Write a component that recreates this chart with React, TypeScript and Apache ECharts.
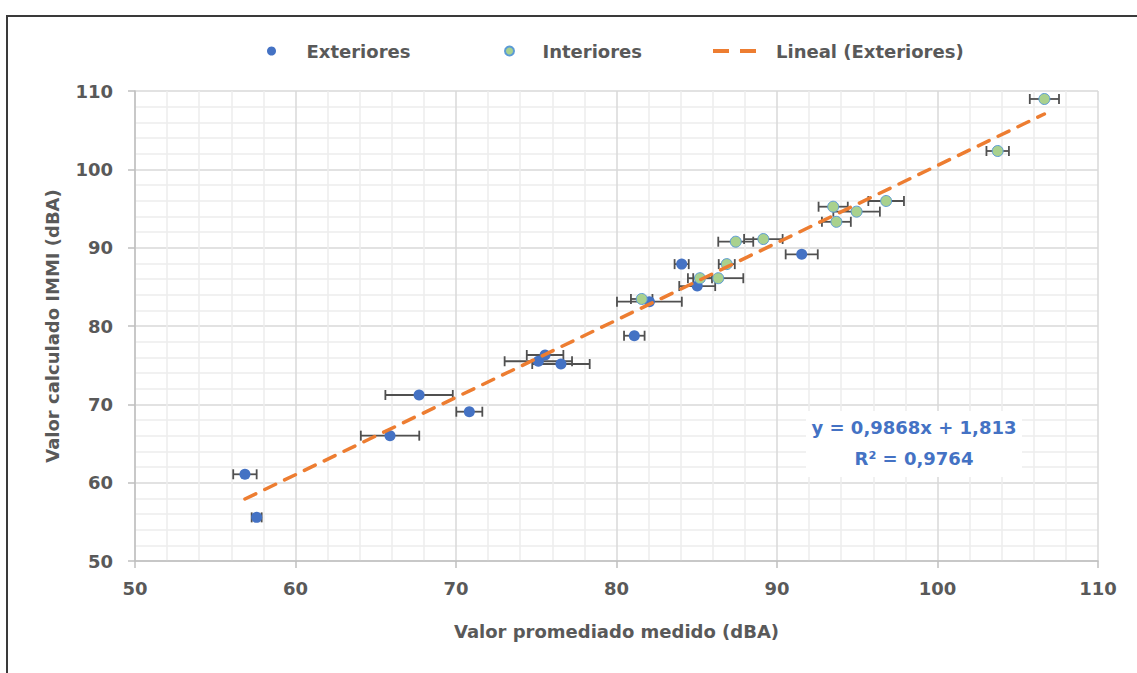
import React, { useEffect, useRef } from "react";
import * as echarts from "echarts";

// ---- Data ----
const extX = [56.85, 57.58, 65.89, 67.7, 70.83, 75.13, 75.55, 76.54, 81.11, 82.05, 84.06, 85.03, 91.54];
const extY = [61.07, 55.57, 66.0, 71.19, 69.06, 75.5, 76.3, 75.15, 78.76, 83.1, 87.9, 85.1, 89.15];
const extErr = [0.73, 0.31, 1.82, 2.1, 0.81, 2.1, 1.14, 1.79, 0.64, 2.02, 0.44, 1.12, 1.0];

const intX = [81.57, 85.2, 86.34, 86.87, 87.43, 89.15, 93.5, 93.7, 94.96, 96.8, 103.75, 106.66];
const intY = [83.45, 86.1, 86.1, 87.9, 90.76, 91.1, 95.23, 93.3, 94.6, 95.96, 102.34, 108.98];
const intErr = [0.67, 0.75, 1.56, 0.5, 1.09, 1.2, 0.91, 0.9, 1.45, 1.11, 0.7, 0.91];

const trendSlope = 0.9868;
const trendIntercept = 1.813;
const equationText = "y = 0,9868x + 1,813";
const r2Text = "R² = 0,9764";

const xTicks = { min: 50, max: 110, interval: 10 };
const yTicks = { min: 50, max: 110, interval: 10 };

const FONT = "DejaVu Sans";
const GREY = "#595959";

export default function App() {
  const ref = useRef<HTMLDivElement>(null);

  useEffect(() => {
    if (!ref.current) return;
    const chart = echarts.init(ref.current, null, { renderer: "svg" });

    const extData = extX.map((x, i) => [x, extY[i]]);
    const intData = intX.map((x, i) => [x, intY[i]]);
    const extErrData = extX.map((x, i) => [x, extY[i], extErr[i]]);
    const intErrData = intX.map((x, i) => [x, intY[i], intErr[i]]);
    const tx0 = Math.min(...extX);
    const tx1 = Math.max(...extX, ...intX);
    const trendData = [
      [tx0, trendSlope * tx0 + trendIntercept],
      [tx1, trendSlope * tx1 + trendIntercept],
    ];

    const errRender = (params: any, api: any) => {
      const x = api.value(0);
      const y = api.value(1);
      const e = api.value(2);
      const p1 = api.coord([x - e, y]);
      const p2 = api.coord([x + e, y]);
      const h = 5;
      const st = { stroke: "#505050", lineWidth: 1.8 };
      return {
        type: "group",
        children: [
          { type: "line", shape: { x1: p1[0], y1: p1[1], x2: p2[0], y2: p2[1] }, style: st },
          { type: "line", shape: { x1: p1[0], y1: p1[1] - h, x2: p1[0], y2: p1[1] + h }, style: st },
          { type: "line", shape: { x1: p2[0], y1: p2[1] - h, x2: p2[0], y2: p2[1] + h }, style: st },
        ],
      };
    };

    const labelStyle = { color: GREY, fontSize: 18, fontWeight: "bold", fontFamily: FONT };
    const legendText = { color: GREY, fontSize: 18, fontWeight: "bold", fontFamily: FONT, lineHeight: 22 };

    const option: any = {
      animation: false,
      backgroundColor: "transparent",
      grid: { left: 135, right: 39, top: 91, bottom: 112, containLabel: false },
      legend: [
        {
          data: [{ name: "Exteriores", icon: "circle" }],
          left: 262, top: 35, itemWidth: 60, itemHeight: 9,
          textStyle: legendText, selectedMode: false,
        },
        {
          data: [{ name: "Interiores", icon: "circle" }],
          left: 499, top: 35, itemWidth: 56, itemHeight: 9,
          textStyle: legendText, selectedMode: false,
        },
        {
          data: [{
            name: "Lineal (Exteriores)",
            icon: "path://M0,0h16v4h-16z M27,0h16v4h-16z",
            itemStyle: { color: "#ED7D31" },
          }],
          left: 708, top: 35, itemWidth: 73, itemHeight: 4,
          textStyle: legendText, selectedMode: false,
        },
      ],
      xAxis: {
        type: "value",
        min: xTicks.min, max: xTicks.max, interval: xTicks.interval,
        name: "Valor promediado medido (dBA)",
        nameLocation: "middle", nameGap: 61,
        nameTextStyle: labelStyle,
        axisLine: { show: true, lineStyle: { color: "#BFBFBF", width: 1.5 } },
        axisTick: { show: true, length: 7, lineStyle: { color: "#BFBFBF", width: 1.5 } },
        axisLabel: { ...labelStyle, margin: 18 },
        splitLine: { show: true, lineStyle: { color: "#D9D9D9", width: 1.5 } },
        minorTick: { show: false, splitNumber: 5 },
        minorSplitLine: { show: true, lineStyle: { color: "#EDEDED", width: 1.5 } },
      },
      yAxis: {
        type: "value",
        min: yTicks.min, max: yTicks.max, interval: yTicks.interval,
        name: "Valor calculado IMMI (dBA)",
        nameLocation: "middle", nameGap: 74,
        nameTextStyle: labelStyle,
        axisLine: { show: true, lineStyle: { color: "#BFBFBF", width: 1.5 } },
        axisTick: { show: true, length: 7, lineStyle: { color: "#BFBFBF", width: 1.5 } },
        axisLabel: { ...labelStyle, margin: 22 },
        splitLine: { show: true, lineStyle: { color: "#D9D9D9", width: 1.5 } },
        minorTick: { show: false, splitNumber: 5 },
        minorSplitLine: { show: true, lineStyle: { color: "#EDEDED", width: 1.5 } },
      },
      graphic: [
        {
          type: "rect", z: 100, shape: { x: 806, y: 411, width: 216, height: 66 },
          style: { fill: "#ffffff" }, silent: true,
        },
        {
          type: "text", z: 101, x: 914, y: 427, silent: true,
          style: { text: equationText, fill: "#4472C4", font: `bold 18px '${FONT}'`, textAlign: "center", textVerticalAlign: "middle" },
        },
        {
          type: "text", z: 101, x: 914, y: 458, silent: true,
          style: { text: r2Text, fill: "#4472C4", font: `bold 18px '${FONT}'`, textAlign: "center", textVerticalAlign: "middle" },
        },
      ],
      series: [
        {
          name: "errExt", type: "custom", renderItem: errRender, data: extErrData,
          encode: { x: 0, y: 1 }, z: 3, silent: true,
        },
        {
          name: "errInt", type: "custom", renderItem: errRender, data: intErrData,
          encode: { x: 0, y: 1 }, z: 3, silent: true,
        },
        {
          name: "Exteriores", type: "scatter", data: extData, symbolSize: 11,
          itemStyle: { color: "#4472C4", opacity: 1 }, z: 4,
        },
        {
          name: "Interiores", type: "scatter", data: intData, symbolSize: 11,
          itemStyle: { color: "#A9D18E", borderColor: "#5B9BD5", borderWidth: 1, opacity: 1 }, z: 4,
        },
        {
          name: "Lineal (Exteriores)", type: "line", data: trendData, symbol: "none", showSymbol: false,
          lineStyle: { color: "#ED7D31", width: 3.5, type: [12, 10], cap: "round" },
          itemStyle: { color: "#ED7D31" }, z: 5, silent: true,
        },
      ],
    };

    chart.setOption(option);
    return () => chart.dispose();
  }, []);

  return (
    <div style={{ position: "absolute", left: 0, top: 0, width: 1137, height: 673, background: "#fff", overflow: "hidden" }}>
      <div style={{ position: "absolute", left: 6, top: 15, width: 1150, height: 700, border: "2px solid #3a3a3a", boxSizing: "border-box" }} />
      <div ref={ref} style={{ position: "absolute", left: 0, top: 0, width: 1137, height: 673 }} />
    </div>
  );
}
